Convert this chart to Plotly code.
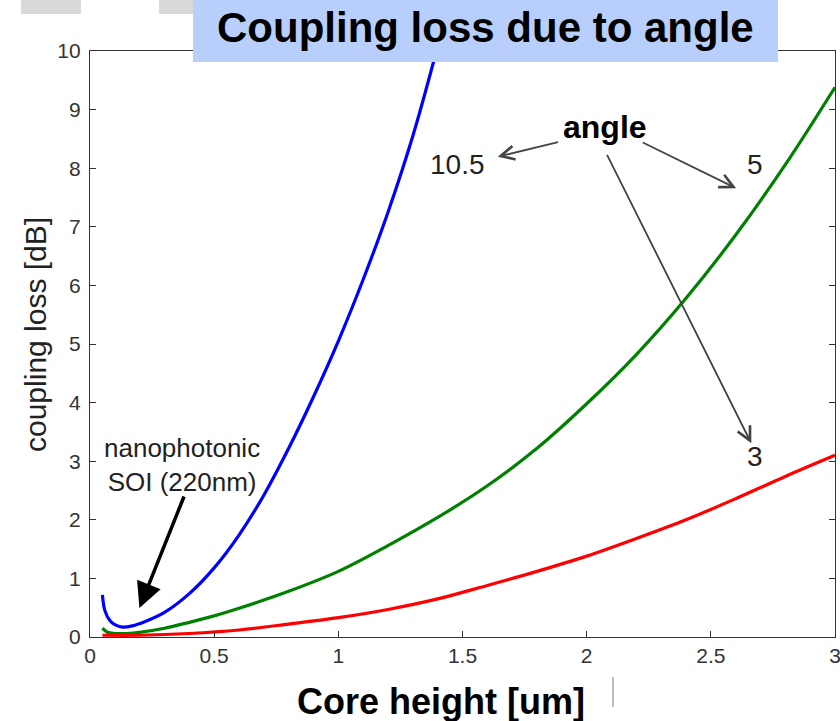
import plotly.graph_objects as go

# ---- data ----
blue_x = [0.05, 0.06, 0.08, 0.10, 0.13, 0.17, 0.22, 0.30, 0.40, 0.50, 0.60, 0.70, 0.80, 0.90, 1.00, 1.10, 1.20, 1.30, 1.395]
blue_y = [0.72, 0.45, 0.28, 0.21, 0.17, 0.19, 0.26, 0.42, 0.74, 1.18, 1.74, 2.42, 3.22, 4.10, 5.05, 6.10, 7.25, 8.55, 10.0]

green_x = [0.05, 0.07, 0.10, 0.15, 0.20, 0.30, 0.40, 0.50, 0.60, 0.80, 1.00, 1.20, 1.40, 1.60, 1.80, 2.00, 2.20, 2.40, 2.60, 2.80, 3.00]
green_y = [0.15, 0.08, 0.06, 0.06, 0.08, 0.15, 0.25, 0.36, 0.49, 0.78, 1.12, 1.56, 2.04, 2.58, 3.22, 3.98, 4.82, 5.78, 6.86, 8.06, 9.38]

red_x = [0.05, 0.20, 0.40, 0.60, 0.80, 1.00, 1.20, 1.40, 1.60, 1.80, 2.00, 2.20, 2.40, 2.60, 2.80, 3.00]
red_y = [0.03, 0.03, 0.06, 0.12, 0.22, 0.33, 0.47, 0.65, 0.88, 1.12, 1.38, 1.68, 2.00, 2.36, 2.74, 3.10]

x_ticks = [0, 0.5, 1, 1.5, 2, 2.5, 3]
x_tick_labels = ["0", "0.5", "1", "1.5", "2", "2.5", "3"]
y_ticks = list(range(0, 11))
y_tick_labels = [str(v) for v in y_ticks]

title_text = "Coupling loss due to angle"
x_title = "Core height [um]"
y_title = "coupling loss [dB]"

# ---- layout geometry ----
W, H = 840, 721
ML, MR, MT, MB = 90, 5, 51, 84
PW, PH = W - ML - MR, H - MT - MB
FONT = "Liberation Sans, Arial, sans-serif"


def px(xp):
    return (xp - ML) / PW


def py(yp):
    return (H - MB - yp) / PH


fig = go.Figure()
fig.add_trace(go.Scatter(x=blue_x, y=blue_y, mode="lines", line=dict(color="#0000FF", width=3.2, shape="spline"), showlegend=False))
fig.add_trace(go.Scatter(x=green_x, y=green_y, mode="lines", line=dict(color="#008000", width=3.2, shape="spline"), showlegend=False))
fig.add_trace(go.Scatter(x=red_x, y=red_y, mode="lines", line=dict(color="#FF0000", width=3.2, shape="spline"), showlegend=False))

axis_common = dict(
    showline=True, linecolor="#333333", linewidth=1.3, mirror="ticks",
    ticks="inside", ticklen=6, tickcolor="#333333", tickwidth=1.2,
    showgrid=False, zeroline=False, automargin=False, ticklabeloverflow="allow",
    tickfont=dict(family=FONT, size=21, color="#333333"),
)
fig.update_xaxes(range=[0, 3], tickvals=x_ticks, ticktext=x_tick_labels, **axis_common)
fig.update_yaxes(range=[0, 10], tickvals=y_ticks, ticktext=y_tick_labels, ticklabelstandoff=4, **axis_common)

shapes = [
    dict(type="rect", xref="paper", yref="paper", x0=px(21), x1=px(81), y0=py(14), y1=py(0),
         fillcolor="#D9D9D9", line=dict(width=0), layer="above"),
    dict(type="rect", xref="paper", yref="paper", x0=px(159), x1=px(193), y0=py(14), y1=py(0),
         fillcolor="#D9D9D9", line=dict(width=0), layer="above"),
    dict(type="rect", xref="paper", yref="paper", x0=px(193), x1=px(778), y0=py(62), y1=py(0),
         fillcolor="#B8CFFC", line=dict(width=0), layer="above"),
    dict(type="line", xref="paper", yref="paper", x0=px(613), x1=px(613), y0=py(677), y1=py(707),
         line=dict(color="#777777", width=1)),
]

gray = "#444444"
annotations = [
    dict(text="<b>" + title_text + "</b>", xref="paper", yref="paper", x=px(485.5), y=py(28), showarrow=False,
         font=dict(family=FONT, size=42, color="black"), xanchor="center", yanchor="middle"),
    dict(text="<b>" + x_title + "</b>", xref="paper", yref="paper", x=px(441), y=py(701), showarrow=False,
         font=dict(family=FONT, size=36, color="black"), xanchor="center", yanchor="middle"),
    dict(text=y_title, xref="paper", yref="paper", x=px(35), y=py(335), showarrow=False, textangle=-90,
         font=dict(family=FONT, size=30, color="#222222"), xanchor="center", yanchor="middle"),
    dict(text="<b>angle</b>", x=2.072, y=8.70, showarrow=False,
         font=dict(family=FONT, size=32, color="black")),
    dict(text="10.5", x=1.48, y=8.055, showarrow=False, font=dict(family=FONT, size=28, color="#222222")),
    dict(text="5", x=2.676, y=8.055, showarrow=False, font=dict(family=FONT, size=28, color="#222222")),
    dict(text="3", x=2.676, y=3.072, showarrow=False, font=dict(family=FONT, size=28, color="#222222")),
    dict(text="nanophotonic<br>SOI (220nm)", x=0.369, y=2.935, showarrow=False, align="center",
         font=dict(family=FONT, size=26, color="#222222")),
    # gray arrows from "angle"
    dict(text="", x=1.642, y=8.196, ax=1.891, ay=8.452, axref="x", ayref="y", showarrow=True,
         arrowhead=5, arrowsize=1.5, arrowwidth=1.8, arrowcolor=gray, standoff=0),
    dict(text="", x=2.602, y=7.657, ax=2.220, ay=8.452, axref="x", ayref="y", showarrow=True,
         arrowhead=5, arrowsize=1.5, arrowwidth=1.8, arrowcolor=gray, standoff=0),
    dict(text="", x=2.663, y=3.305, ax=2.079, ay=8.254, axref="x", ayref="y", showarrow=True,
         arrowhead=5, arrowsize=1.5, arrowwidth=1.8, arrowcolor=gray, standoff=0),
    # black arrow
    dict(text="", x=0.199, y=0.495, ax=0.381, ay=2.423, axref="x", ayref="y", showarrow=True,
         arrowhead=2, arrowsize=1.45, arrowwidth=3.5, arrowcolor="black", standoff=0),
]

fig.update_layout(
    width=W, height=H,
    margin=dict(l=ML, r=MR, t=MT, b=MB, autoexpand=False),
    paper_bgcolor="white", plot_bgcolor="white",
    shapes=shapes, annotations=annotations,
    font=dict(family=FONT),
)

fig.write_html(
    "out.html",
    config={"displayModeBar": False},
    post_script="document.body.style.margin='0px';document.body.style.overflow='hidden';",
)
